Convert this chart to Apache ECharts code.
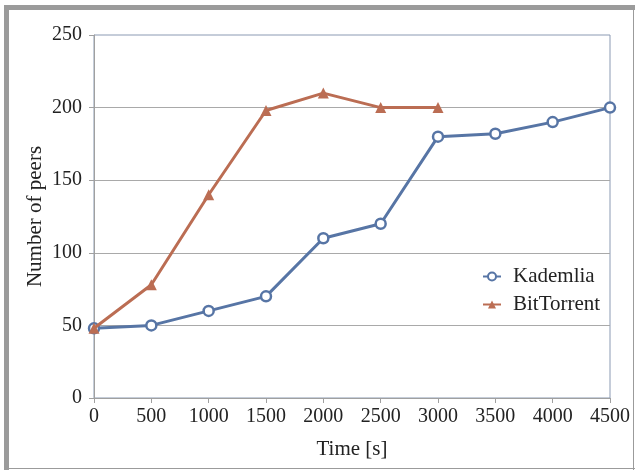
<!DOCTYPE html>
<html>
<head>
<meta charset="utf-8">
<script src="https://cdn.jsdelivr.net/npm/echarts@6/dist/echarts.min.js"></script>
<style>
html,body{margin:0;padding:0;background:#fff;}
#c{width:635px;height:470px;}
</style>
</head>
<body>
<div id="c"></div>
<script>
const times = [0, 500, 1000, 1500, 2000, 2500, 3000, 3500, 4000, 4500];
const kademlia = [48, 50, 60, 70, 110, 120, 180, 182, 190, 200];
const bitTorrentTimes = [0, 500, 1000, 1500, 2000, 2500, 3000];
const bitTorrent = [48, 78, 140, 198, 210, 200, 200];

const font = '"Liberation Serif", "DejaVu Serif", serif';
const chart = echarts.init(document.getElementById('c'));
chart.setOption({
  animation: false,
  backgroundColor: '#fff',
  textStyle: { fontFamily: font },
  graphic: [
    { type: 'rect', shape: { x: 4, y: 5, width: 5, height: 465 }, style: { fill: '#9b9b9b' }, silent: true },
    { type: 'rect', shape: { x: 4, y: 5, width: 631, height: 5 }, style: { fill: '#9b9b9b' }, silent: true },
    { type: 'rect', shape: { x: 633, y: 5, width: 1, height: 465 }, style: { fill: '#9b9b9b' }, silent: true },
    { type: 'rect', shape: { x: 4, y: 468, width: 631, height: 1 }, style: { fill: '#9b9b9b' }, silent: true }
  ],
  grid: {
    left: 94, right: 25, top: 35, bottom: 72,
    show: true, borderColor: '#8b9ab3', borderWidth: 1, backgroundColor: 'transparent'
  },
  legend: {
    orient: 'vertical',
    left: 477, top: 261,
    itemGap: 7,
    itemWidth: 18, itemHeight: 10,
    textStyle: { fontFamily: font, fontSize: 21, color: '#222', padding: [0, 0, 0, 7] },
    data: ['Kademlia', 'BitTorrent']
  },
  xAxis: {
    type: 'value', min: 0, max: 4500, interval: 500,
    name: 'Time [s]', nameLocation: 'middle', nameGap: 41,
    nameMoveOverlap: false,
    nameTextStyle: { fontFamily: font, fontSize: 21, color: '#222' },
    axisLine: { show: true, lineStyle: { color: '#a0a0a0', width: 1 } },
    axisTick: { show: true, length: 5, lineStyle: { color: '#a0a0a0' } },
    axisLabel: { fontFamily: font, fontSize: 20, color: '#222', margin: 9, formatter: (v) => String(v) },
    splitLine: { show: false }
  },
  yAxis: {
    type: 'value', min: 0, max: 250, interval: 50,
    name: 'Number of peers', nameLocation: 'middle', nameGap: 48,
    nameMoveOverlap: false,
    nameTextStyle: { fontFamily: font, fontSize: 21, color: '#222' },
    axisLine: { show: true, lineStyle: { color: '#a0a0a0', width: 1 } },
    axisTick: { show: true, length: 5, lineStyle: { color: '#a0a0a0' } },
    axisLabel: { fontFamily: font, fontSize: 20, color: '#222', margin: 12 },
    splitLine: { show: true, showMinLine: false, showMaxLine: false, lineStyle: { color: '#a9a9a9', width: 1 } }
  },
  series: [
    {
      name: 'Kademlia', type: 'line',
      data: times.map((t, i) => [t, kademlia[i]]),
      symbol: 'circle', symbolSize: 10,
      lineStyle: { color: '#5775a5', width: 3 },
      itemStyle: { color: '#ffffff', borderColor: '#5775a5', borderWidth: 2.5 },
      z: 3
    },
    {
      name: 'BitTorrent', type: 'line',
      data: bitTorrentTimes.map((t, i) => [t, bitTorrent[i]]),
      symbol: 'triangle', symbolSize: 11,
      lineStyle: { color: '#bb6d53', width: 3 },
      itemStyle: { color: '#bb6d53', borderColor: '#bb6d53', borderWidth: 0 },
      z: 4
    }
  ]
});
</script>
</body>
</html>
